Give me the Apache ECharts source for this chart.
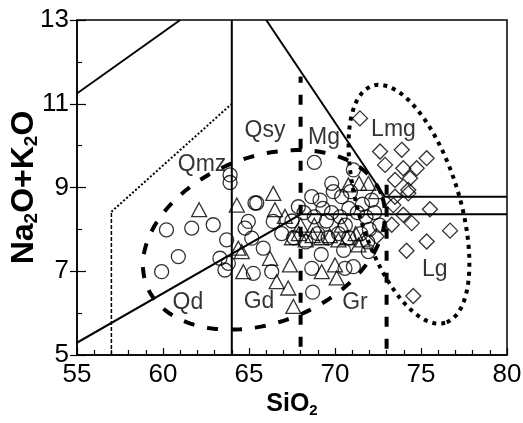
<!DOCTYPE html>
<html>
<head>
<meta charset="utf-8">
<style>
  html, body { margin: 0; padding: 0; background: #fff; }
  #chart { width: 523px; height: 423px; }
</style>
<script src="https://cdn.jsdelivr.net/npm/echarts@6/dist/echarts.min.js"></script>
</head>
<body>
<div id="chart"></div>
<script>
// Axis ranges and tick labels
const xTicks = [55, 60, 65, 70, 75, 80];
const yTicks = [5, 7, 9, 11, 13];

// Sample compositions [SiO2, Na2O+K2O]
const circles = [
  [60.2, 7.99], [61.67, 8.03], [62.92, 8.11], [60.89, 7.35], [59.92, 6.99],
  [63.7, 7.75], [63.31, 7.31], [63.6, 7.03], [63.9, 9.3], [63.9, 9.12],
  [64.96, 8.19], [65.16, 7.79], [65.45, 8.63], [65.25, 6.95], [64.77, 8.03],
  [63.8, 7.19], [65.83, 7.55], [66.32, 6.99], [66.41, 8.19], [65.35, 8.63],
  [68.8, 9.6], [71.07, 9.42], [69.81, 9.1], [68.65, 8.78], [69.13, 8.7],
  [70.39, 8.78], [72.13, 8.7], [67.87, 8.54], [68.7, 6.5], [68.65, 7.07],
  [70.58, 7.07], [71.07, 7.11], [71.94, 7.47],
  [67.5, 8.2], [68.2, 8.4], [68.8, 8.3], [69.3, 8.5], [69.8, 8.4], [70.3, 8.3],
  [70.8, 8.5], [71.3, 8.4], [71.8, 8.3], [72.3, 8.4], [69.0, 7.9], [69.6, 7.8],
  [70.2, 7.9], [70.8, 7.8], [71.5, 7.9], [72.0, 8.0], [68.3, 7.7], [67.6, 7.8],
  [66.9, 7.9], [70.5, 7.5], [69.2, 7.4], [72.6, 8.1],
  [69.9, 8.9], [70.9, 8.9], [71.6, 8.6], [69.5, 8.2], [70.6, 8.1], [71.9, 7.7]
];
const triangles = [
  [62.1, 8.47], [64.29, 8.58], [64.58, 7.47], [64.67, 6.99], [66.41, 8.86],
  [66.51, 8.47], [67.09, 8.31], [64.38, 7.55], [66.22, 7.31], [66.61, 6.75],
  [67.38, 7.15], [67.28, 6.6], [67.58, 6.16], [70.78, 9.06], [71.94, 9.1],
  [69.23, 6.99], [70.0, 7.15], [70.1, 6.84], [71.36, 7.63],
  [67.5, 7.8], [67.9, 7.9], [68.3, 7.75], [68.7, 7.85], [69.2, 7.8], [69.7, 7.85],
  [70.2, 7.75], [70.7, 7.8], [71.2, 7.9], [71.6, 7.75], [68.0, 8.1], [68.8, 8.1],
  [70.4, 8.1], [71.4, 9.1], [72.4, 8.9]
];
const diamonds = [
  [71.45, 10.65], [72.62, 9.86], [73.88, 9.9], [72.91, 9.54], [73.97, 9.46],
  [75.33, 9.7], [74.75, 9.46], [74.36, 9.22], [73.49, 9.18], [74.26, 8.94],
  [74.26, 8.86], [73.39, 8.58], [75.52, 8.48], [73.97, 8.35], [74.46, 8.15],
  [73.3, 8.11], [76.69, 7.97], [75.33, 7.71], [74.16, 7.49], [72.42, 7.83],
  [74.55, 6.41], [73.49, 8.78]
];

// Field boundaries
const lineLowerLeft = [[54.6, 5.2], [68, 8.36], [80, 8.36]];
const lineUpperLeft = [[54.6, 11.13], [61, 13]];
const line64 = [[64, 5], [64, 13]];
const lineSteep = [[66, 13], [72.9, 8.78], [80, 8.78]];
const dash57 = [[57, 5], [57, 8.42]];
const dotDiag = [[57, 8.42], [64, 11.0]];
const dash68 = [[68, 5.2], [68, 11.65]];
const dash73 = [[73, 5.15], [73, 9.3]];

// Outlined fields: centre and two conjugate semi-axis vectors (data units)
const granitoidCentre = [65.87, 7.75];
const granitoidAxisU = [6.81, 1.10];
const granitoidAxisV = [-1.77, 1.84];
const leucoCentre = [74.30, 8.60];
const leucoAxisU = [2.106, -2.83];
const leucoAxisV = [-2.812, -0.353];

// Field names
const fieldNames = ['Qsy', 'Mg', 'Lmg', 'Qmz', 'Qd', 'Gd', 'Gr', 'Lg'];
const fieldPos = [
  [65.93, 10.35], [69.36, 10.18], [73.4, 10.37], [62.27, 9.54],
  [61.45, 6.25], [65.58, 6.27], [71.16, 6.25], [75.8, 7.03]
];

function ellipse(c, u, v) {
  const pts = [];
  for (let i = 0; i <= 180; i++) {
    const t = (i / 180) * Math.PI * 2;
    pts.push([c[0] + Math.cos(t) * u[0] + Math.sin(t) * v[0],
              c[1] + Math.cos(t) * u[1] + Math.sin(t) * v[1]]);
  }
  return pts;
}

function boundary(data, style) {
  return {
    type: 'line', data: data, symbol: 'none', clip: false, silent: true,
    lineStyle: Object.assign({ color: '#000', width: 2 }, style),
    z: 3
  };
}

const FONT = 'Liberation Sans, Arial, sans-serif';
const chart = echarts.init(document.getElementById('chart'), null, { renderer: 'canvas' });

const fieldLabels = fieldNames.map((n, i) => ({ value: fieldPos[i], name: n }));

chart.setOption({
  animation: false,
  backgroundColor: '#fff',
  grid: {
    left: 77, right: 16, top: 20, bottom: 68, outerBoundsMode: 'none',
    show: true, borderColor: '#000', borderWidth: 1.5
  },
  xAxis: {
    type: 'value', min: xTicks[0], max: xTicks[xTicks.length - 1], interval: 5,
    splitLine: { show: false },
    axisLine: { lineStyle: { color: '#000', width: 1.5 } },
    axisTick: { inside: true, length: 7, lineStyle: { color: '#000', width: 1.2 } },
    minorTick: { show: true, splitNumber: 5, length: 5, lineStyle: { color: '#000', width: 1.2 } },
    axisLabel: { color: '#000', fontSize: 26, fontFamily: FONT, margin: 7 },
    name: '{b|SiO}{s|2}', nameLocation: 'middle', nameGap: 36, nameMoveOverlap: false,
    nameTextStyle: {
      rich: {
        b: { fontSize: 25, fontWeight: 'bold', fontFamily: FONT, color: '#000' },
        s: { fontSize: 15, fontWeight: 'bold', fontFamily: FONT, color: '#000', verticalAlign: 'bottom', padding: [12, 0, 0, 0] }
      }
    }
  },
  yAxis: [{
    type: 'value', min: yTicks[0], max: yTicks[yTicks.length - 1], interval: 2,
    splitLine: { show: false },
    axisLine: { lineStyle: { color: '#000', width: 1.5 } },
    axisTick: { inside: true, length: 9, lineStyle: { color: '#000', width: 1.2 } },
    minorTick: { show: true, splitNumber: 2, length: 5, lineStyle: { color: '#000', width: 1.2 } },
    axisLabel: { color: '#000', fontSize: 26, fontFamily: FONT, margin: 8 },
    name: '{b|Na}{s|2}{b|O+K}{s|2}{b|O}', nameLocation: 'middle', nameGap: 36, nameMoveOverlap: false,
    nameTextStyle: {
      rich: {
        b: { fontSize: 32, fontWeight: 'bold', fontFamily: FONT, color: '#000' },
        s: { fontSize: 19, fontWeight: 'bold', fontFamily: FONT, color: '#000', padding: [14, 0, 0, 0] }
      }
    }
  }, {
    type: 'value', min: yTicks[0], max: yTicks[yTicks.length - 1], interval: 2,
    position: 'left', splitLine: { show: false },
    axisLine: { show: false },
    axisTick: { inside: false, length: 7, lineStyle: { color: '#000', width: 1.2 } },
    axisLabel: { show: false }
  }],
  series: [
    boundary(lineLowerLeft, {}),
    boundary(lineUpperLeft, {}),
    boundary(line64, {}),
    boundary(lineSteep, {}),
    boundary(dash57, { width: 1.5, type: [4, 2] }),
    boundary(dotDiag, { width: 2, type: [2, 2] }),
    boundary(dash68, { width: 4, type: [10, 12] }),
    boundary(dash73, { width: 4, type: [10, 12] }),
    boundary(ellipse(granitoidCentre, granitoidAxisU, granitoidAxisV), { width: 4, type: [11, 13] }),
    boundary(ellipse(leucoCentre, leucoAxisU, leucoAxisV), { width: 4, type: [4, 5] }),
    {
      type: 'scatter', data: circles, symbol: 'circle', symbolSize: 14,
      itemStyle: { color: 'rgba(0,0,0,0)', borderColor: '#000', borderWidth: 1.3 }, z: 4
    },
    {
      type: 'scatter', data: triangles, symbol: 'triangle', symbolSize: [15, 14],
      itemStyle: { color: 'rgba(0,0,0,0)', borderColor: '#000', borderWidth: 1.3 }, z: 4
    },
    {
      type: 'scatter', data: diamonds, symbol: 'diamond', symbolSize: [15, 15],
      itemStyle: { color: 'rgba(0,0,0,0)', borderColor: '#000', borderWidth: 1.3 }, z: 4
    },
    {
      type: 'scatter', data: fieldLabels, symbolSize: 0, silent: true, z: 5,
      label: {
        show: true, position: 'inside', formatter: p => p.name,
        fontSize: 23, fontFamily: FONT, color: '#000'
      }
    }
  ]
});
</script>
</body>
</html>
